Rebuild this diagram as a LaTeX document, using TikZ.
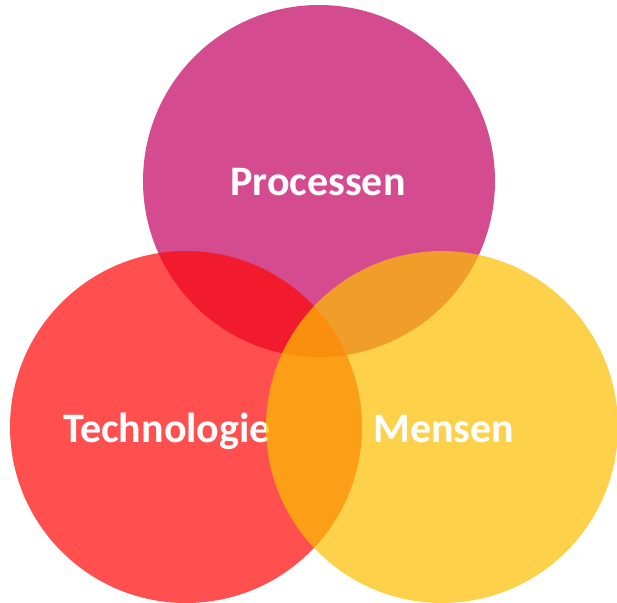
\documentclass[tikz,border=0pt]{standalone}
\usepackage{fontspec}
\setmainfont{Carlito}
\usepackage{tikz}
\usepackage{xcolor}
\definecolor{procmag}{HTML}{C2005F}
\definecolor{techred}{HTML}{FF0404}
\definecolor{mensyel}{HTML}{FCC000}
\tikzset{blob/.style = {shape=circle,minimum size=352pt,inner sep=0pt,fill opacity=0.7}}
\tikzset{caption/.style = {anchor=base,text=white,font=\bfseries\fontsize{42}{42}\selectfont}}

\begin{document}
\begin{tikzpicture}[x=1pt,y=-1pt]
		\useasboundingbox (0,0) rectangle (617,602);
		\clip (0,0) rectangle (617,602);
		% circles and labels
		\node[blob,fill=procmag] (proc) at (319,181) {};
		\node[caption] (proclbl) at (318,195) {Processen};
		\node[blob,fill=techred] (tech) at (186,427) {};
		\node[caption] (techlbl) at (167,442) {Technologie};
		\node[blob,fill=mensyel,fill opacity=0.71] (mens) at (442,427) {};
		\node[caption] (menslbl) at (444,442) {Mensen};
	\end{tikzpicture}
\end{document}
